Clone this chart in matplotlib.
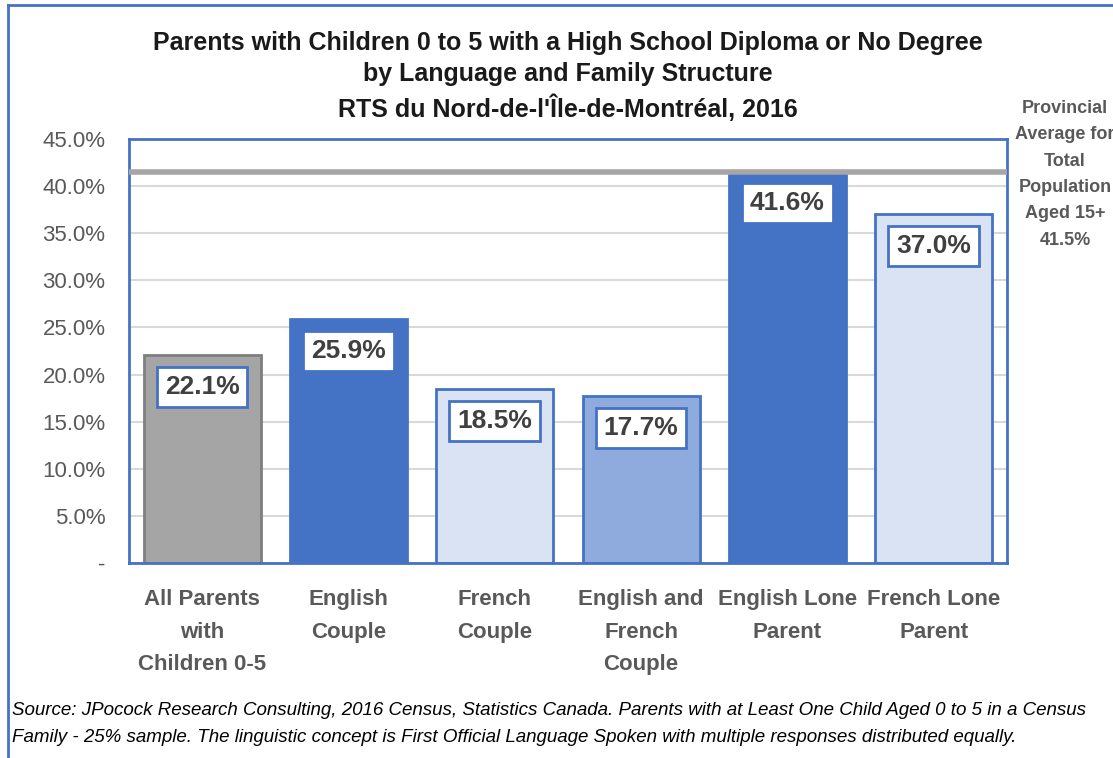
import matplotlib
matplotlib.use("Agg")
import matplotlib.pyplot as plt
from matplotlib.lines import Line2D

plt.rcParams['font.family'] = ['Liberation Sans', 'DejaVu Sans']

categories = ["All Parents\nwith\nChildren 0-5", "English\nCouple", "French\nCouple",
              "English and\nFrench\nCouple", "English Lone\nParent", "French Lone\nParent"]
values = [22.1, 25.9, 18.5, 17.7, 41.6, 37.0]
provincial_avg = 41.5
yticks = [0, 5, 10, 15, 20, 25, 30, 35, 40, 45]
ytick_labels = ["-"] + [f"{t:.1f}%" for t in yticks[1:]]

fills = ["#A5A5A5", "#4472C4", "#DAE3F3", "#8FAADC", "#4472C4", "#DAE3F3"]
edges = ["#7F7F7F", "#4472C4", "#4472C4", "#4472C4", "#4472C4", "#4472C4"]

fig = plt.figure(figsize=(11.13, 7.58), dpi=100)
ax = fig.add_axes([129 / 1113, 1 - 563 / 758, 878 / 1113, 424 / 758])

x = list(range(len(values)))
ax.bar(x, values, width=0.8, color=fills, edgecolor=edges, linewidth=2, zorder=2)
ax.axhline(provincial_avg, color="#A6A6A6", linewidth=4, zorder=3)

for xi, v in zip(x, values):
    ax.annotate(f"{v:.1f}%", xy=(xi, v), xytext=(0, -23), textcoords="offset points",
                ha="center", va="center", fontsize=19, fontweight="bold", color="#404040",
                bbox=dict(boxstyle="square,pad=0.3", fc="white", ec="#4472C4", lw=2), zorder=4)

ax.set_xlim(-0.5, 5.5)
ax.set_ylim(0, 45)
ax.set_yticks(yticks)
ax.set_yticklabels(ytick_labels, fontsize=16, color="#595959")
ax.set_xticks(x)
ax.set_xticklabels(categories, fontsize=16, fontweight="bold", color="#595959", linespacing=1.72)
ax.tick_params(axis="both", length=0)
ax.tick_params(axis="y", pad=17)
ax.tick_params(axis="x", pad=19)
ax.grid(axis="y", color="#D9D9D9", linewidth=1.5, zorder=0)
ax.set_axisbelow(True)
for s in ax.spines.values():
    s.set_color("#4472C4")
    s.set_linewidth(2)

fig.text(0.51, 1 - 31 / 758, "Parents with Children 0 to 5 with a High School Diploma or No Degree\n"
         "by Language and Family Structure\nRTS du Nord-de-l'Île-de-Montréal, 2016",
         ha="center", va="top", fontsize=18, fontweight="bold", color="#1a1a1a", linespacing=1.38)

fig.text(1065 / 1113, 1 - 100 / 758, "Provincial\nAverage for\nTotal\nPopulation\nAged 15+\n41.5%",
         ha="center", va="top", fontsize=13, fontweight="bold", color="#595959", linespacing=1.72)

fig.text(12 / 1113, 1 - 724 / 758, "Source: JPocock Research Consulting, 2016 Census, Statistics Canada. "
         "Parents with at Least One Child Aged 0 to 5 in a Census\nFamily - 25% sample. The linguistic "
         "concept is First Official Language Spoken with multiple responses distributed equally.",
         ha="left", va="center", fontsize=13.5, style="italic", color="black", linespacing=1.78)

# outer chart frame
fig.add_artist(Line2D([8 / 1113, 8 / 1113], [0, 1 - 5 / 758], color="#4472C4", lw=2))
fig.add_artist(Line2D([8 / 1113, 1], [1 - 5 / 758, 1 - 5 / 758], color="#4472C4", lw=2))

fig.savefig("out.png", dpi=100)
